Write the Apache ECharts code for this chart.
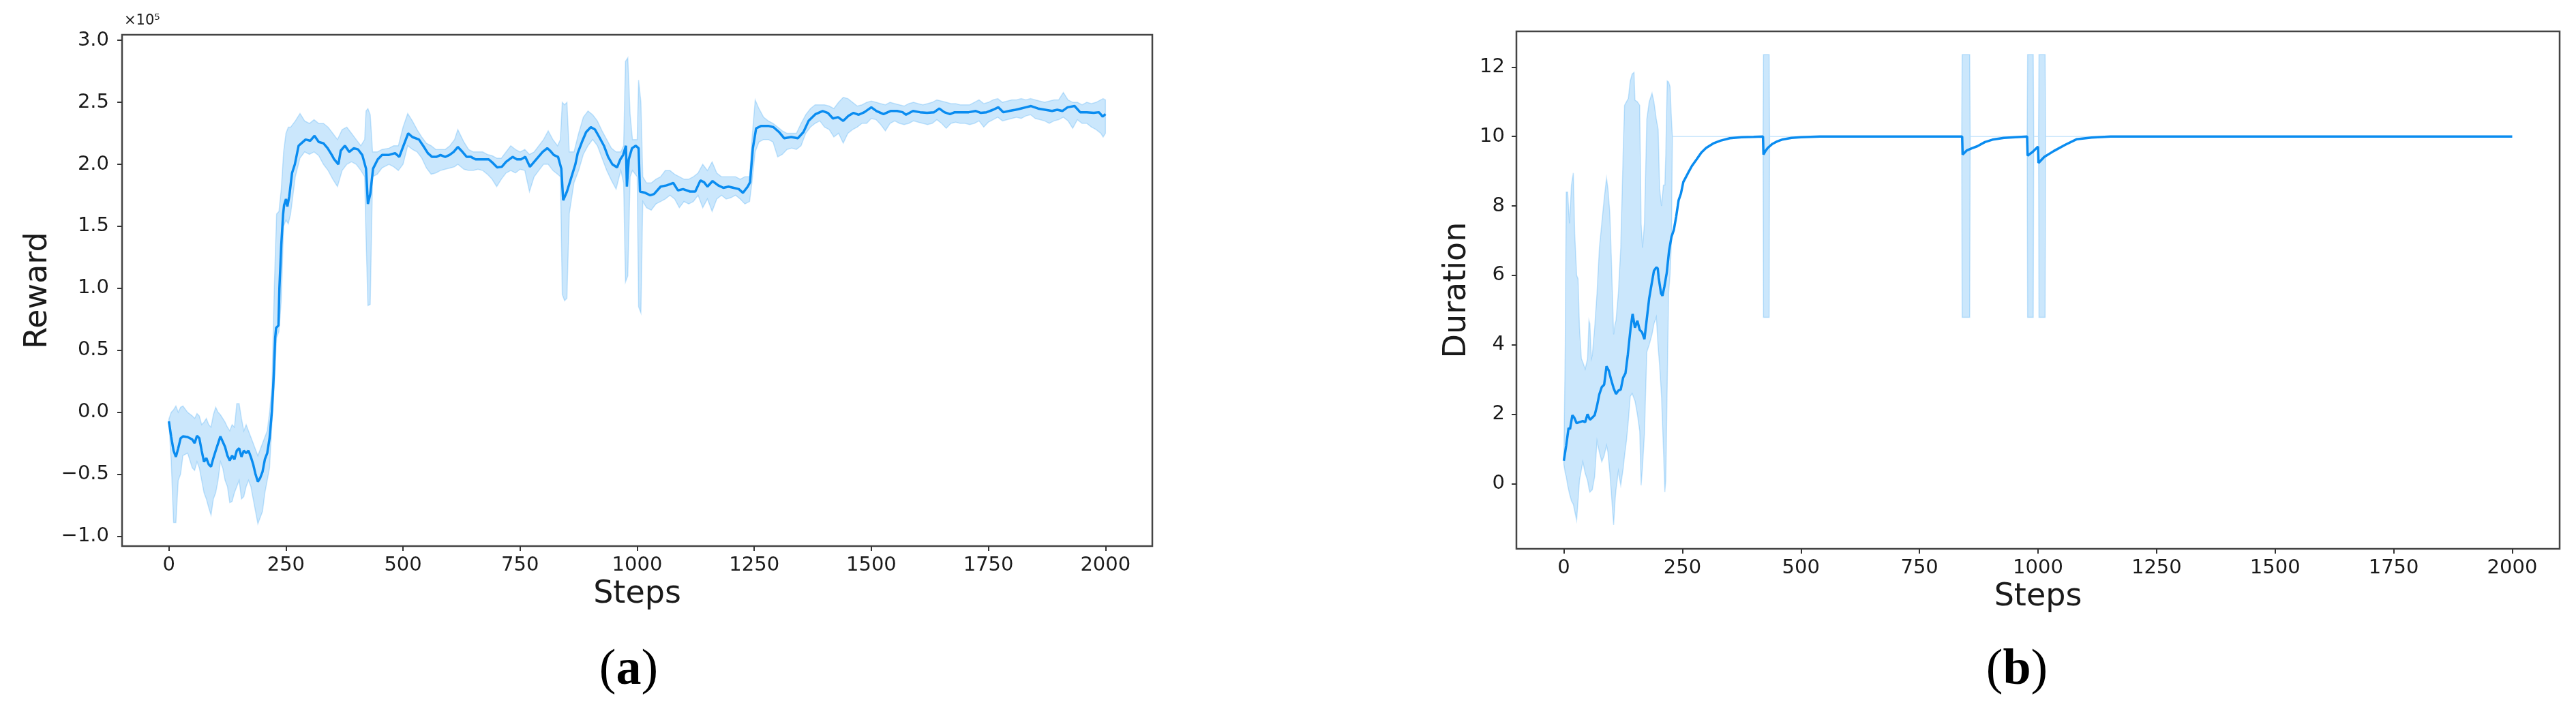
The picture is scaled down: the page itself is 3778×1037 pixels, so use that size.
<!DOCTYPE html>
<html>
<head>
<meta charset="utf-8">
<script src="https://cdn.jsdelivr.net/npm/echarts@6/dist/echarts.min.js"></script>
<style>
html,body{margin:0;padding:0;background:#ffffff;}
#chart{width:3778px;height:1037px;}
</style>
</head>
<body>
<div id="chart"></div>
<script>
// ---------- tick labels ----------
const stepTicks = [0, 250, 500, 750, 1000, 1250, 1500, 1750, 2000];
const rewardTicks = [-1.0, -0.5, 0.0, 0.5, 1.0, 1.5, 2.0, 2.5, 3.0];
const durationTicks = [0, 2, 4, 6, 8, 10, 12];

// ---------- (a) Reward, in units of 1e5 ----------
const rewardSteps = [0,5,10,15,20,25,30,40,50,55,60,65,70,75,80,85,90,95,100,110,120,125,130,135,140,145,150,155,160,165,170,175,180,185,190,195,200,205,210,215,220,224,227,229,234,236,240,244,246,250,253,257,263,269,277,283,292,302,311,320,330,339,348,353,362,367,376,385,395,404,413,421,425,430,436,446,455,469,483,492,501,511,520,534,543,553,562,571,580,590,599,608,617,627,636,645,655,664,673,683,692,701,711,720,734,743,752,761,771,780,789,798,808,814,822,831,838,842,850,859,868,873,882,891,901,910,919,929,938,947,957,964,970,976,978,982,989,997,1003,1006,1017,1028,1036,1050,1063,1077,1087,1098,1113,1124,1135,1143,1150,1161,1173,1184,1195,1206,1217,1226,1236,1241,1247,1254,1265,1280,1291,1303,1314,1329,1343,1355,1366,1381,1396,1407,1418,1429,1440,1451,1462,1473,1485,1500,1511,1526,1541,1555,1567,1574,1589,1604,1619,1634,1645,1656,1668,1678,1693,1708,1723,1734,1746,1760,1771,1782,1794,1808,1819,1830,1841,1856,1871,1886,1897,1908,1919,1934,1946,1960,1975,1986,1994,2000];
const rewardMean = [-0.073,-0.2,-0.31,-0.36,-0.29,-0.21,-0.195,-0.2,-0.22,-0.25,-0.19,-0.21,-0.31,-0.40,-0.37,-0.42,-0.44,-0.37,-0.31,-0.195,-0.28,-0.35,-0.39,-0.35,-0.38,-0.31,-0.29,-0.36,-0.31,-0.33,-0.31,-0.36,-0.42,-0.50,-0.56,-0.53,-0.48,-0.38,-0.33,-0.21,0.01,0.3,0.6,0.68,0.7,1.0,1.35,1.6,1.67,1.72,1.66,1.74,1.93,2.0,2.15,2.17,2.20,2.19,2.23,2.18,2.17,2.13,2.075,2.04,2.0,2.11,2.15,2.10,2.13,2.12,2.075,1.965,1.68,1.76,1.965,2.04,2.075,2.075,2.09,2.06,2.15,2.25,2.22,2.20,2.15,2.09,2.06,2.06,2.075,2.06,2.075,2.10,2.14,2.10,2.06,2.06,2.04,2.04,2.04,2.04,2.01,1.975,1.98,2.02,2.06,2.04,2.04,2.06,1.98,2.02,2.06,2.10,2.13,2.11,2.075,2.06,1.965,1.71,1.78,1.89,2.0,2.09,2.18,2.26,2.30,2.28,2.22,2.15,2.06,2.0,1.975,2.04,2.075,2.15,1.82,2.04,2.13,2.15,2.13,1.78,1.77,1.75,1.76,1.82,1.83,1.85,1.79,1.80,1.78,1.78,1.87,1.855,1.82,1.865,1.83,1.81,1.82,1.81,1.80,1.77,1.82,1.855,2.13,2.29,2.31,2.31,2.30,2.26,2.21,2.22,2.21,2.26,2.35,2.405,2.43,2.415,2.37,2.38,2.35,2.39,2.415,2.40,2.42,2.46,2.43,2.405,2.43,2.43,2.42,2.40,2.43,2.42,2.415,2.42,2.45,2.42,2.405,2.42,2.42,2.42,2.43,2.415,2.42,2.44,2.46,2.42,2.43,2.44,2.45,2.46,2.47,2.45,2.44,2.43,2.44,2.43,2.46,2.47,2.42,2.42,2.415,2.42,2.385,2.405];

const rewardBandSteps = [0,5,10,15,20,25,30,40,50,55,60,65,70,75,80,85,90,95,100,105,110,115,120,125,130,135,140,145,150,155,160,165,170,175,180,185,190,195,200,205,210,215,220,225,230,235,240,245,250,255,260,270,280,290,300,310,320,330,340,350,360,370,380,390,400,410,418,421,425,430,435,445,455,470,480,490,500,510,520,530,540,550,560,570,580,590,600,610,617,630,640,650,660,670,680,690,700,710,720,730,740,750,760,770,780,790,800,810,820,830,836,840,845,850,855,865,875,885,895,905,915,925,935,945,955,965,971,975,980,985,990,1000,1003,1008,1012,1020,1030,1040,1050,1060,1070,1080,1090,1100,1110,1120,1130,1140,1150,1160,1170,1180,1190,1200,1210,1220,1230,1240,1245,1252,1260,1270,1280,1290,1300,1310,1320,1330,1340,1350,1360,1370,1380,1390,1400,1410,1420,1430,1440,1450,1460,1470,1480,1490,1500,1510,1520,1530,1540,1550,1560,1570,1580,1590,1600,1610,1620,1630,1640,1650,1660,1670,1680,1690,1700,1710,1720,1730,1740,1750,1760,1770,1780,1790,1800,1810,1820,1830,1840,1850,1860,1870,1880,1890,1900,1910,1920,1930,1940,1950,1960,1970,1980,1990,1995,2000];
const rewardLow = [-0.08,-0.4,-0.89,-0.89,-0.55,-0.5,-0.35,-0.33,-0.45,-0.47,-0.4,-0.45,-0.55,-0.65,-0.7,-0.77,-0.83,-0.7,-0.65,-0.55,-0.4,-0.45,-0.55,-0.6,-0.73,-0.72,-0.65,-0.6,-0.55,-0.7,-0.68,-0.6,-0.55,-0.6,-0.7,-0.8,-0.9,-0.85,-0.8,-0.65,-0.55,-0.45,-0.1,0.2,0.6,0.65,0.9,1.5,1.55,1.52,1.6,1.9,2.05,2.1,2.08,2.1,2.07,2.0,1.95,1.88,1.82,1.95,2.0,2.02,2.0,1.95,1.9,1.4,0.86,0.87,1.9,1.92,1.97,2.0,1.98,1.95,2.0,2.15,2.12,2.1,2.05,1.97,1.92,1.93,1.95,1.96,1.97,1.98,2.0,1.96,1.95,1.95,1.96,1.95,1.92,1.88,1.82,1.88,1.93,1.95,1.93,1.96,1.95,1.78,1.9,1.95,2.0,2.0,1.95,1.92,1.9,0.95,0.9,0.92,1.6,1.85,1.95,2.08,2.15,2.2,2.15,2.05,1.95,1.87,1.8,1.95,1.85,1.05,1.1,1.9,1.95,1.9,0.85,0.8,1.7,1.65,1.63,1.68,1.7,1.72,1.75,1.72,1.65,1.7,1.68,1.7,1.75,1.65,1.72,1.62,1.72,1.75,1.72,1.73,1.75,1.72,1.68,1.7,1.85,2.1,2.18,2.2,2.2,2.18,2.06,2.08,2.12,2.13,2.12,2.15,2.25,2.3,2.33,2.35,2.3,2.28,2.22,2.25,2.17,2.25,2.28,2.3,2.33,2.33,2.37,2.36,2.32,2.27,2.33,2.35,2.33,2.32,2.33,2.35,2.34,2.33,2.32,2.33,2.36,2.33,2.29,2.33,2.34,2.33,2.33,2.32,2.33,2.35,2.3,2.34,2.36,2.38,2.35,2.36,2.37,2.38,2.37,2.39,2.4,2.37,2.36,2.35,2.33,2.35,2.36,2.38,2.35,2.29,2.36,2.33,2.33,2.3,2.28,2.25,2.22,2.25];
const rewardHigh = [-0.055,0.0,0.02,0.05,0.0,0.04,0.05,0.0,-0.03,-0.05,-0.01,-0.03,-0.1,-0.08,-0.05,-0.1,-0.12,-0.02,0.04,0.0,-0.02,-0.05,-0.08,-0.12,-0.15,-0.1,-0.12,0.07,0.07,-0.05,-0.15,-0.1,-0.15,-0.2,-0.25,-0.3,-0.35,-0.3,-0.25,-0.2,-0.15,0.0,0.2,1.0,1.6,1.62,1.8,2.1,2.25,2.3,2.3,2.35,2.41,2.35,2.33,2.36,2.33,2.33,2.3,2.25,2.2,2.28,2.3,2.25,2.2,2.15,2.2,2.43,2.45,2.4,2.1,2.1,2.12,2.13,2.15,2.15,2.3,2.41,2.35,2.28,2.22,2.17,2.15,2.12,2.12,2.12,2.15,2.2,2.28,2.18,2.12,2.1,2.1,2.1,2.08,2.07,2.05,2.05,2.1,2.15,2.12,2.1,2.12,2.08,2.1,2.15,2.2,2.27,2.2,2.15,2.2,2.5,2.48,2.5,2.1,2.1,2.25,2.38,2.43,2.4,2.35,2.27,2.2,2.13,2.1,2.1,2.15,2.83,2.86,2.4,2.2,2.2,2.68,2.5,1.9,1.85,1.85,1.88,1.9,1.95,1.95,1.92,1.9,1.88,1.88,1.9,1.93,2.0,1.95,2.02,1.93,1.9,1.9,1.9,1.9,1.88,1.9,1.9,2.2,2.52,2.45,2.38,2.35,2.33,2.3,2.27,2.25,2.25,2.25,2.33,2.4,2.45,2.48,2.48,2.48,2.47,2.45,2.5,2.54,2.53,2.5,2.47,2.48,2.5,2.51,2.5,2.49,2.48,2.5,2.49,2.48,2.47,2.49,2.5,2.49,2.48,2.49,2.5,2.52,2.51,2.5,2.49,2.49,2.48,2.48,2.48,2.5,2.52,2.49,2.5,2.52,2.53,2.5,2.51,2.52,2.52,2.53,2.52,2.53,2.52,2.51,2.5,2.51,2.52,2.52,2.58,2.52,2.5,2.5,2.48,2.5,2.49,2.5,2.52,2.53,2.52];

// ---------- (b) Duration ----------
const durationSteps = [0,5,10,13,18,22,27,33,40,45,50,55,60,65,70,75,80,85,90,95,100,105,110,115,120,125,130,135,138,141,145,150,155,160,165,170,175,180,185,190,195,198,200,205,208,212,217,222,227,232,237,242,247,252,257,262,270,280,290,300,315,330,350,375,400,420,421,425,430,440,450,460,480,500,540,840,841,850,860,872,888,904,928,952,977,978,988,1000,1001,1013,1033,1057,1081,1113,1153,2000];
const durationMean = [0.66,1.1,1.6,1.57,1.97,1.9,1.74,1.77,1.8,1.77,2.0,1.84,1.9,1.97,2.24,2.58,2.78,2.85,3.38,3.25,2.98,2.75,2.58,2.68,2.71,3.05,3.18,3.72,4.12,4.5,4.89,4.49,4.69,4.43,4.36,4.16,4.75,5.34,5.74,6.13,6.23,6.2,5.93,5.48,5.41,5.67,6.07,6.72,7.11,7.31,7.7,8.16,8.36,8.69,8.82,8.95,9.15,9.34,9.54,9.67,9.8,9.88,9.95,9.98,9.99,10.0,9.48,9.58,9.67,9.79,9.86,9.91,9.96,9.98,10.0,10.0,9.48,9.6,9.66,9.72,9.84,9.91,9.96,9.98,10.0,9.45,9.55,9.71,9.24,9.41,9.58,9.76,9.92,9.97,10.0,10.0];

const durationBandSteps = [0,3,5,8,12,16,20,23,27,30,33,37,40,45,50,53,55,58,60,65,70,75,80,85,90,93,97,100,105,108,110,115,120,125,128,132,136,140,144,148,150,155,160,163,166,170,175,180,186,190,195,199,202,206,210,213,215,218,221,224,227,229,420,421,433,434,839,840,856,857,977,978,990,991,1001,1002,1015,1016,2000];
const durationLow = [0.55,0.3,0.2,-0.05,-0.3,-0.5,-0.6,-0.8,-1.06,-0.5,0.09,0.4,0.63,0.3,0.09,-0.15,-0.25,-0.2,-0.18,0.2,1.23,0.9,0.63,0.8,1.1,0.9,0.3,-0.25,-1.19,-0.5,-0.18,0.36,-0.05,0.42,0.8,1.23,1.8,2.51,2.6,2.45,2.38,2.0,1.51,-0.05,0.5,1.43,3.79,4.0,4.3,4.6,4.8,3.9,3.4,2.5,1.0,-0.25,0.09,2.78,5.5,6.0,7.0,10.0,10.0,4.79,4.79,10.0,10.0,4.79,4.79,10.0,10.0,4.79,4.79,10.0,10.0,4.79,4.79,10.0,10.0];
const durationHigh = [0.75,4.0,8.4,8.4,7.5,8.6,8.95,7.2,6.0,5.9,4.5,3.6,3.5,3.3,3.6,4.7,4.6,3.6,3.7,4.5,5.5,6.8,7.5,8.2,8.8,8.5,7.8,6.6,4.3,4.6,4.7,5.5,6.8,9.5,10.9,11.0,11.1,11.6,11.8,11.85,11.05,11.0,10.9,7.5,6.8,7.5,10.5,11.0,11.25,11.0,10.5,10.2,8.5,8.0,8.6,8.6,9.5,11.6,11.57,11.44,10.5,10.0,10.0,12.36,12.36,10.0,10.0,12.36,12.36,10.0,10.0,12.36,12.36,10.0,10.0,12.36,12.36,10.0,10.0];

// ---------- helpers ----------
const LINE_COLOR = '#0a8cf0';
const BAND_COLOR = 'rgba(10,140,240,0.21)';
const TEXT_COLOR = '#1a1a1a';
const FONT = 'DejaVu Sans';

function pairs(xs, ys) { return xs.map((x, i) => [x, ys[i]]); }
function triples(xs, lo, hi) { return xs.map((x, i) => [x, lo[i], hi[i]]); }

function xAxisFor(gridIndex) {
  return {
    gridIndex: gridIndex, type: 'value', min: -100, max: 2100,
    name: 'Steps', nameLocation: 'middle', nameGap: 44,
    nameTextStyle: { color: TEXT_COLOR, fontFamily: FONT, fontSize: 46 },
    axisLine: { show: false, onZero: false },
    splitLine: { show: false },
    axisTick: { show: true, inside: false, length: 7, customValues: stepTicks, lineStyle: { color: '#333', width: 2 } },
    axisLabel: { customValues: stepTicks, margin: 14, color: TEXT_COLOR, fontFamily: FONT, fontSize: 29,
      formatter: v => String(v) }
  };
}
// band drawn as one polygon through the axis coordinate system
function bandSeries(axisIdx, data) {
  return {
    type: 'custom', xAxisIndex: axisIdx, yAxisIndex: axisIdx, silent: true, z: 1,
    data: data, encode: { x: 0, y: [1, 2] },
    renderItem: function (params, api) {
      if (params.dataIndex !== 0) return null;
      const upper = data.map(d => api.coord([d[0], d[2]]));
      const lower = data.map(d => api.coord([d[0], d[1]])).reverse();
      return {
        type: 'polygon',
        shape: { points: upper.concat(lower) },
        style: { fill: BAND_COLOR, stroke: BAND_COLOR, lineWidth: 1.5 }
      };
    }
  };
}

const chart = echarts.init(document.getElementById('chart'), null, { renderer: 'canvas' });
const option = {
  animation: false,
  backgroundColor: '#ffffff',
  grid: [
    { left: 179, top: 51, width: 1511, height: 750, show: true, borderColor: '#444', borderWidth: 2.5, backgroundColor: 'transparent' },
    { left: 2224, top: 46, width: 1530, height: 759, show: true, borderColor: '#444', borderWidth: 2.5, backgroundColor: 'transparent' }
  ],
  xAxis: [xAxisFor(0), xAxisFor(1)],
  yAxis: [
    { gridIndex: 0, type: 'value', min: -1.08, max: 3.045,
      name: 'Reward', nameLocation: 'middle', nameGap: 100,
      nameTextStyle: { color: TEXT_COLOR, fontFamily: FONT, fontSize: 46 },
      axisLine: { show: false, onZero: false }, splitLine: { show: false },
      axisTick: { show: true, length: 7, customValues: rewardTicks, lineStyle: { color: '#333', width: 2 } },
      axisLabel: { customValues: rewardTicks, margin: 19, color: TEXT_COLOR, fontFamily: FONT, fontSize: 29,
        formatter: v => (v < 0 ? '\u2212' : '') + Math.abs(v).toFixed(1) } },
    { gridIndex: 1, type: 'value', min: -1.88, max: 13.03,
      name: 'Duration', nameLocation: 'middle', nameGap: 64,
      nameTextStyle: { color: TEXT_COLOR, fontFamily: FONT, fontSize: 46 },
      axisLine: { show: false, onZero: false }, splitLine: { show: false },
      axisTick: { show: true, length: 7, customValues: durationTicks, lineStyle: { color: '#333', width: 2 } },
      axisLabel: { customValues: durationTicks, margin: 17, color: TEXT_COLOR, fontFamily: FONT, fontSize: 29,
        formatter: v => String(v) } }
  ],
  series: [
    bandSeries(0, triples(rewardBandSteps, rewardLow, rewardHigh)),
    { type: 'line', xAxisIndex: 0, yAxisIndex: 0, data: pairs(rewardSteps, rewardMean),
      symbol: 'none', showSymbol: false, z: 3, lineStyle: { color: LINE_COLOR, width: 3.5 } },
    bandSeries(1, triples(durationBandSteps, durationLow, durationHigh)),
    { type: 'line', xAxisIndex: 1, yAxisIndex: 1, data: pairs(durationSteps, durationMean),
      symbol: 'none', showSymbol: false, z: 3, lineStyle: { color: LINE_COLOR, width: 3.5 } }
  ],
  graphic: [
    { type: 'text', x: 182, y: 20, style: { text: '\u00d710\u2075', font: '21px "DejaVu Sans"', fill: TEXT_COLOR } },
    { type: 'text', x: 922, y: 984, style: { text: '{p|(}{b|a}{p|)}', align: 'center', verticalAlign: 'middle',
        rich: { p: { fontFamily: 'Liberation Serif', fontSize: 74, fill: '#000' },
                b: { fontFamily: 'Liberation Serif', fontWeight: 'bold', fontSize: 74, fill: '#000' } } } },
    { type: 'text', x: 2958, y: 984, style: { text: '{p|(}{b|b}{p|)}', align: 'center', verticalAlign: 'middle',
        rich: { p: { fontFamily: 'Liberation Serif', fontSize: 74, fill: '#000' },
                b: { fontFamily: 'Liberation Serif', fontWeight: 'bold', fontSize: 74, fill: '#000' } } } }
  ]
};
chart.setOption(option);
</script>
</body>
</html>
